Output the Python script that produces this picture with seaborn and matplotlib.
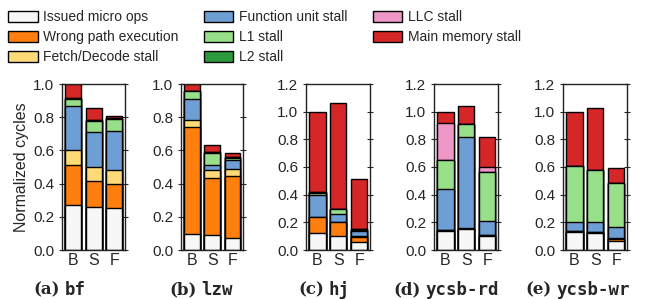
import numpy as np
import pandas as pd
import seaborn as sns
import matplotlib.pyplot as plt
from matplotlib.patches import Patch

components = ["Issued micro ops", "Wrong path execution", "Fetch/Decode stall",
              "Function unit stall", "L1 stall", "L2 stall", "LLC stall", "Main memory stall"]
colors = ["#f7f7f7", "#ff7f0e", "#ffdb78", "#6d9ed4", "#98df8a", "#2c9a3c", "#ef98c8", "#d62728"]
configs = ["B", "S", "F"]

# per benchmark: one row per config (B, S, F), one value per component
bf = [[0.27, 0.24, 0.095, 0.26, 0.045, 0.008, 0.0, 0.082],
      [0.26, 0.155, 0.085, 0.21, 0.07, 0.005, 0.0, 0.07],
      [0.255, 0.14, 0.085, 0.235, 0.075, 0.005, 0.0, 0.01]]
lzw = [[0.095, 0.645, 0.045, 0.125, 0.045, 0.005, 0.0, 0.04],
       [0.09, 0.345, 0.045, 0.035, 0.07, 0.005, 0.0, 0.04],
       [0.075, 0.37, 0.04, 0.06, 0.01, 0.005, 0.0, 0.025]]
hj = [[0.12, 0.115, 0.005, 0.155, 0.02, 0.005, 0.0, 0.58],
      [0.10, 0.10, 0.005, 0.055, 0.035, 0.005, 0.0, 0.763],
      [0.055, 0.04, 0.005, 0.04, 0.005, 0.008, 0.0, 0.357]]
ycsb_rd = [[0.14, 0.005, 0.003, 0.295, 0.205, 0.0, 0.27, 0.082],
           [0.15, 0.005, 0.003, 0.657, 0.098, 0.0, 0.0, 0.127],
           [0.10, 0.005, 0.0, 0.105, 0.355, 0.0, 0.035, 0.217]]
ycsb_wr = [[0.13, 0.008, 0.002, 0.06, 0.406, 0.003, 0.0, 0.391],
           [0.125, 0.005, 0.003, 0.067, 0.377, 0.003, 0.0, 0.445],
           [0.067, 0.015, 0.003, 0.083, 0.313, 0.0, 0.0, 0.113]]

benchmarks = [("(a)", "bf", bf), ("(b)", "lzw", lzw), ("(c)", "hj", hj),
              ("(d)", "ycsb-rd", ycsb_rd), ("(e)", "ycsb-wr", ycsb_wr)]
y_tops = [1.0, 1.0, 1.2, 1.2, 1.2]

sns.set_style("ticks")
plt.rcParams["font.family"] = ["Liberation Sans", "DejaVu Sans"]
plt.rcParams["font.size"] = 10.5

W, H = 652, 299
fig = plt.figure(figsize=(W / 100, H / 100), dpi=100)

# axes placement in pixels (left, right), shared top/bottom
ax_px = [(62, 125), (181, 243), (306, 370), (434, 498), (563, 627)]
top_px, bot_px = 84, 250
label_cx = [60, 201, 324, 446, 578]

axes = []
for i, (tag, name, vals) in enumerate(benchmarks):
    l, r = ax_px[i]
    ax = fig.add_axes([l / W, 1 - bot_px / H, (r - l) / W, (bot_px - top_px) / H])
    cum = np.cumsum(np.array(vals), axis=1)
    # draw from the top segment down so lower segments sit on top
    for k in range(len(components) - 1, -1, -1):
        df = pd.DataFrame({"config": configs, "value": cum[:, k]})
        sns.barplot(data=df, x="config", y="value", color=colors[k], saturation=1,
                    width=0.78, edgecolor="black", linewidth=1.0, ax=ax, order=configs)
    ax.set_xlim(-0.55, 2.52)
    ax.set_ylim(0, y_tops[i])
    ax.set_yticks(np.arange(0, y_tops[i] + 0.01, 0.2))
    ax.set_yticklabels([f"{t:.1f}" for t in np.arange(0, y_tops[i] + 0.01, 0.2)], fontsize=11)
    ax.tick_params(axis="y", which="both", left=True, right=True, direction="out", length=3)
    ax.tick_params(axis="y", right=True, direction="inout", length=4)
    ax.tick_params(axis="x", length=0, labelsize=11.5, pad=2)
    ax.set_xlabel("")
    ax.set_ylabel("")
    for s in ax.spines.values():
        s.set_visible(True)
        s.set_linewidth(1.0)
        s.set_color("#222222")
    axes.append(ax)

axes[0].set_ylabel("Normalized cycles", fontsize=11.5, labelpad=3)

handles = [Patch(facecolor=c, edgecolor="black", linewidth=1.0, label=n)
           for c, n in zip(colors, components)]
fig.legend(handles=handles, loc="upper left", bbox_to_anchor=(0.0, 0.993), ncol=3,
           frameon=False, fontsize=10, handlelength=2.1, handleheight=0.9,
           handletextpad=0.4, columnspacing=1.85, labelspacing=0.42, borderaxespad=0.2)

# two-font subplot captions: "(a)" serif bold + benchmark name mono bold
parts = []
for i, (tag, name, vals) in enumerate(benchmarks):
    t1 = fig.text(0, 0.03, tag, family="DejaVu Serif", fontweight="bold", fontsize=12,
                  ha="left", va="center")
    t2 = fig.text(0, 0.03, name, family="DejaVu Sans Mono", fontweight="bold", fontsize=12.5,
                  ha="left", va="center")
    parts.append((t1, t2))

fig.canvas.draw()
rend = fig.canvas.get_renderer()
gap = 5
for i, (t1, t2) in enumerate(parts):
    w1 = t1.get_window_extent(rend).width
    w2 = t2.get_window_extent(rend).width
    start = label_cx[i] - (w1 + gap + w2) / 2
    t1.set_x(start / W)
    t2.set_x((start + w1 + gap) / W)

fig.savefig("out.png", dpi=100)
